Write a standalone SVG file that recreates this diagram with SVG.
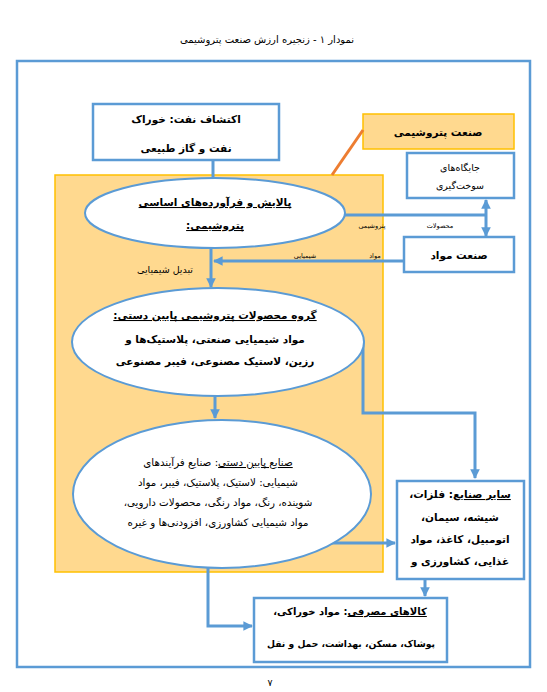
<svg xmlns="http://www.w3.org/2000/svg" width="547" height="692" viewBox="0 0 547 692">
<defs>
<marker id="ah" viewBox="0 0 10 10" refX="9" refY="5" markerWidth="3.2" markerHeight="3.2" orient="auto-start-reverse" markerUnits="strokeWidth">
<path d="M0,0 L10,5 L0,10 z" fill="#5B9BD5"/>
</marker>
<style>
text{font-family:"DejaVu Sans",sans-serif;fill:#000;direction:rtl;text-anchor:middle}
.b{font-weight:bold;font-size:10.5px}
.n{font-size:9.5px}
.m{font-size:10.3px}
.s{font-size:6.5px}
.box{fill:#fff;stroke:#5B9BD5;stroke-width:2.5}
.gold{fill:#FFD98F;stroke:#FFC000;stroke-width:1.5}
.ell{fill:#fff;stroke:#5B9BD5;stroke-width:2}
.c{fill:none;stroke:#5B9BD5;stroke-width:3}
.u{text-decoration:underline}
</style>
</defs>
<rect width="547" height="692" fill="#fff"/>
<text x="267" y="43" class="n" style="font-size:10px">نمودار ۱ - زنجیره ارزش صنعت پتروشیمی</text>
<rect id="frame" x="17" y="61" width="513" height="606" fill="none" stroke="#5B9BD5" stroke-width="2.5"/>
<g id="petrochem-zone"><rect x="55" y="175" width="328" height="397" class="gold"/></g>
<g id="petrochem-industry">
<rect x="363" y="114" width="151" height="35" class="gold"/>
<text x="438" y="136" class="b">صنعت پتروشیمی</text>
</g>
<line x1="363" y1="130" x2="332" y2="175" stroke="#ED7D31" stroke-width="3"/>
<g id="exploration">
<rect x="93" y="104" width="186" height="56" class="box"/>
<text x="186" y="123" class="b">اکتشاف نفت: خوراک</text>
<text x="186" y="152" class="b">نفت و گاز طبیعی</text>
</g>
<g id="stations">
<rect x="407" y="153" width="107" height="45" class="box"/>
<text x="460" y="171" class="n">جایگاه‌های</text>
<text x="460" y="189" class="n">سوخت‌گیری</text>
</g>
<g id="materials-industry">
<rect x="404" y="237" width="110" height="35" class="box"/>
<text x="459" y="259" class="b">صنعت مواد</text>
</g>
<g id="connectors">
<line x1="213" y1="160" x2="213" y2="178" class="c"/>
<polyline points="345,215 486,215" class="c"/>
<line x1="486" y1="215" x2="486" y2="200" class="c" marker-end="url(#ah)"/>
<line x1="486" y1="215" x2="486" y2="236" class="c" marker-end="url(#ah)"/>
<line x1="404" y1="261" x2="214" y2="261" class="c" marker-end="url(#ah)"/>
<line x1="211" y1="248" x2="211" y2="287" class="c" marker-end="url(#ah)"/>
<line x1="215" y1="396" x2="215" y2="418" class="c" marker-end="url(#ah)"/>
<polyline points="363,340 363,413 475,413 475,478" class="c" marker-end="url(#ah)"/>
<line x1="325" y1="543" x2="395" y2="543" class="c" marker-end="url(#ah)"/>
<line x1="425" y1="579" x2="425" y2="596" class="c" marker-end="url(#ah)"/>
<polyline points="208,566 208,626 252,626" class="c" marker-end="url(#ah)"/>
</g>
<text x="440" y="228" class="s">محصولات</text>
<text x="372" y="228" class="s">پتروشیمی</text>
<text x="375" y="258" class="s">مواد</text>
<text x="305" y="258" class="s">شیمیایی</text>
<text x="165" y="273" class="n">تبدیل شیمیایی</text>
<g id="refining">
<ellipse cx="215" cy="213" rx="130" ry="35" class="ell"/>
<text x="215" y="206" class="b u">پالایش و فرآورده‌های اساسی</text>
<text x="215" y="229" class="b u">پتروشیمی:</text>
</g>
<g id="downstream-products">
<ellipse cx="218" cy="342" rx="146" ry="54" class="ell"/>
<text x="215" y="319" class="b u">گروه محصولات پتروشیمی پایین دستی:</text>
<text x="215" y="343" class="b">مواد شیمیایی صنعتی، پلاستیک‌ها و</text>
<text x="215" y="365" class="b">رزین، لاستیک مصنوعی، فیبر مصنوعی</text>
</g>
<g id="downstream-industries">
<ellipse cx="222" cy="494" rx="149" ry="74" class="ell"/>
<text x="218" y="466" class="m"><tspan class="u">صنایع پایین دستی</tspan>: صنایع فرآیندهای</text>
<text x="218" y="486" class="m">شیمیایی: لاستیک، پلاستیک، فیبر، مواد</text>
<text x="218" y="506" class="m">شوینده، رنگ، مواد رنگی، محصولات دارویی،</text>
<text x="218" y="526" class="m">مواد شیمیایی کشاورزی، افزودنی‌ها و غیره</text>
</g>
<g id="other-industries">
<rect x="397" y="481" width="127" height="98" class="box"/>
<text x="460" y="498" class="b"><tspan class="u">سایر صنایع</tspan>: فلزات،</text>
<text x="460" y="521" class="b">شیشه، سیمان،</text>
<text x="460" y="543" class="b">اتومبیل، کاغذ، مواد</text>
<text x="460" y="565" class="b">غذایی، کشاورزی و</text>
</g>
<g id="consumer-goods">
<rect x="254" y="598" width="193" height="64" class="box"/>
<text x="350" y="615" class="b" style="font-size:10px"><tspan class="u">کالاهای مصرفی</tspan>: مواد خوراکی،</text>
<text x="351" y="647" class="b" style="font-size:9.2px">پوشاک، مسکن، بهداشت، حمل و نقل</text>
</g>
<text x="270" y="686" class="n">۷</text>
</svg>
